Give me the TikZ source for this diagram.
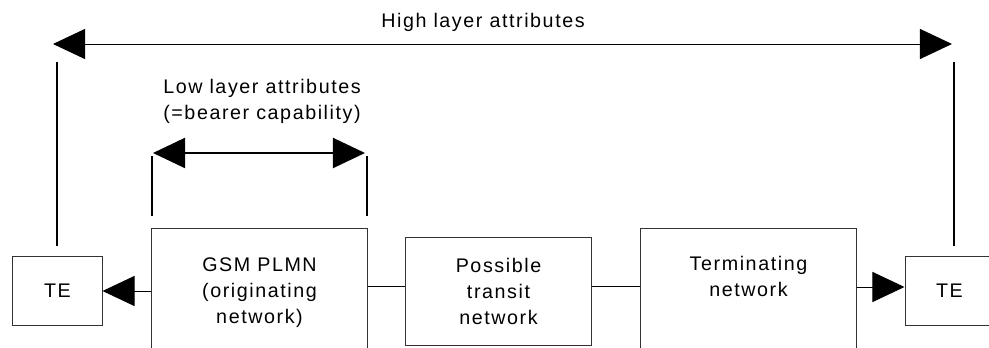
\documentclass[tikz,border=0pt]{standalone}
\usepackage{fontspec}
\setmainfont{Liberation Sans}[LetterSpace=8]
\usetikzlibrary{arrows.meta}

\begin{document}
\begin{tikzpicture}[%
x=.025cm, y=.025cm,
>={Triangle[length=.8cm, width=.75cm]},
every node/.style={font=\fontsize{14}{18.5}\selectfont},
netbox/.style={draw=black!80, line width=.7pt, rectangle, align=center, inner sep=0mm},
tebox/.style={netbox, minimum width=2.225cm, minimum height=1.7cm},
link/.style={line width=.7pt},
attr/.style={<->, line width=.7pt},
bracket/.style={line width=1.4pt},
]

\useasboundingbox (0,0) rectangle (989,348);
\clip (0,0) rectangle (989,348);

\pgfmathsetmacro{\boxy}{55}
\pgfmathsetmacro{\hiy}{304}
\pgfmathsetmacro{\loy}{195}

% the chain of networks
\node[tebox](te1) at (57.5,57){TE};
\node[netbox, minimum width=5.375cm, minimum height=3.2cm](gsm) at (259.5,\boxy){GSM PLMN\\(originating\\network)};
\node[netbox, minimum width=4.625cm, minimum height=2.675cm](transit) at (498.5,56.5){Possible\\transit\\network};
\node[netbox, minimum width=5.375cm, minimum height=3.2cm](term) at (748.5,\boxy){Terminating\\network\\\strut};
\node[tebox](te2) at (949.5,57){TE};

\draw[->, link] (gsm.west |- te1.east)--(te1.east);
\draw[link] ([yshift=.125cm]transit.west -| gsm.east)--([yshift=.125cm]transit.west);
\draw[link] ([yshift=.125cm]transit.east)--([yshift=.125cm]transit.east -| term.west);
\draw[->, link] ([yshift=.1cm]te2.west -| term.east)--([yshift=.1cm]te2.west);

% high layer
\coordinate(hiL) at (53,\hiy);
\coordinate(hiR) at (952,\hiy);
\draw[attr] (hiL)--(hiR);
\node[anchor=base](hilabel) at (483,320){High layer attributes};

\coordinate(hiL0) at (57,102);
\coordinate(hiL1) at (57,286);
\draw[bracket] (hiL0)--(hiL1);
\coordinate(hiR0) at (954,102);
\coordinate(hiR1) at (954,286);
\draw[bracket] (hiR0)--(hiR1);

% low layer
\coordinate(loL) at (153,\loy);
\coordinate(loR) at (365,\loy);
\draw[attr, bracket] (loL)--(loR);
\node[align=center](lolabel) at (262,247){Low layer attributes\\(=bearer capability)};

\coordinate(loL0) at (152,132);
\coordinate(loL1) at (152,192);
\draw[bracket] (loL0)--(loL1);
\coordinate(loR0) at (367,132);
\coordinate(loR1) at (367,192);
\draw[bracket] (loR0)--(loR1);

\end{tikzpicture}
\end{document}
